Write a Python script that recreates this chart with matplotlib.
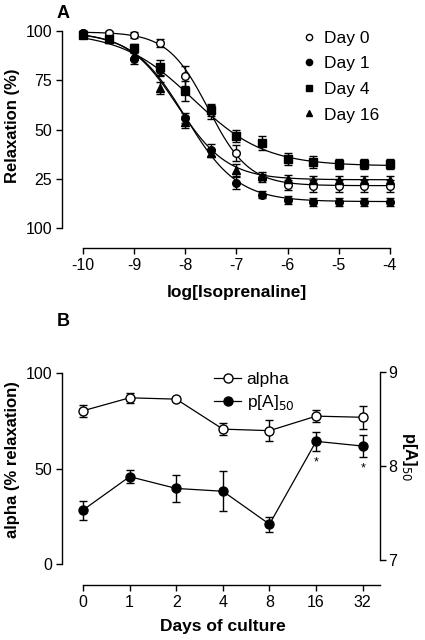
import numpy as np
import matplotlib
matplotlib.use("Agg")
import matplotlib.pyplot as plt
from matplotlib.lines import Line2D

plt.rcParams['font.family'] = ['Liberation Sans', 'DejaVu Sans']
plt.rcParams['axes.unicode_minus'] = False

# ---- panel A data ----
log_conc = [-10, -9.5, -9, -8.5, -8, -7.5, -7, -6.5, -6, -5.5, -5, -4.5, -4]
day0 = [99, 99, 98, 94, 77, 59, 38, 25.5, 22, 21.5, 21.5, 21.5, 21.5]
day0_err = [1, 1, 1.5, 2, 5, 3.5, 4, 2, 2.5, 3, 3, 3, 3]
day1 = [99, 96, 86, 80, 56, 39.5, 23, 17, 14.2, 13.4, 13.4, 13.4, 13.4]
day1_err = [1, 1, 3, 3, 2.5, 3, 3, 2, 2, 2, 2, 2, 2]
day4 = [98, 96, 91.5, 81.5, 69.5, 60, 46.5, 43.3, 35, 33.4, 32.3, 32.3, 32.3]
day4_err = [1, 1, 2, 4, 5, 3, 3, 3.5, 3, 3, 2.5, 2.5, 2.5]
day16 = [99, 96, 88, 71, 54, 38, 29.4, 26.4, 25, 24.5, 24.5, 24.5, 24.5]
day16_err = [1, 1, 2, 3, 3, 2, 3, 2, 2, 2, 2, 2, 2]

# sigmoid fit parameters
fit_top = [99.5, 99.5, 99.5, 99.5]
fit_bottom = [21.5, 13.4, 31.5, 24.5]
fit_logec50 = [-7.55, -8.0, -7.85, -8.15]
fit_hill = [1.1, 0.85, 0.62, 0.9]

# ---- panel B data ----
days = ["0", "1", "2", "4", "8", "16", "32"]
alpha = [80.4, 87.2, 86.5, 70.8, 70.0, 77.6, 77.0]
alpha_err = [3, 2.5, 1, 3, 5.5, 3, 6]
pa50 = [7.53, 7.885, 7.76, 7.73, 7.38, 8.26, 8.21]
pa50_err = [0.10, 0.07, 0.14, 0.21, 0.08, 0.10, 0.115]
signif = [False, False, False, False, False, True, True]

W, H = 425, 640
fig = plt.figure(figsize=(W / 100, H / 100), dpi=100)

def box(l, t, r, b):
    return [l / W, 1 - b / H, (r - l) / W, (b - t) / H]

def style(ax):
    ax.spines['top'].set_visible(False)
    ax.spines['right'].set_visible(False)
    ax.tick_params(direction='out', length=4, width=1, labelsize=11.5, pad=3)
    for s in ax.spines.values():
        s.set_linewidth(1)

# ---------- Panel A ----------
axA = fig.add_axes(box(62, 25, 395, 248))
style(axA)
axA.set_xlim(-10.41, -3.90)
axA.set_ylim(-10.15, 103.05)
axA.spines['left'].set_bounds(0, 100)
axA.spines['bottom'].set_bounds(-10, -4)
axA.set_yticks([0, 25, 50, 75, 100])
axA.set_yticklabels(["100", "25", "50", "75", "100"])
axA.set_xticks([-10, -9, -8, -7, -6, -5, -4])

series = [(day0, day0_err, 'o', 'white', 'Day 0'),
          (day1, day1_err, 'o', 'black', 'Day 1'),
          (day4, day4_err, 's', 'black', 'Day 4'),
          (day16, day16_err, '^', 'black', 'Day 16')]
xs = np.linspace(-10, -4, 300)
handles = []
for i, (vals, errs, mk, fc, lab) in enumerate(series):
    yfit = fit_bottom[i] + (fit_top[i] - fit_bottom[i]) / (1 + 10 ** ((xs - fit_logec50[i]) * fit_hill[i]))
    axA.plot(xs, yfit, color='black', lw=0.9, zorder=2)
    axA.errorbar(log_conc, vals, yerr=errs, fmt=mk, mfc=fc, mec='black', color='black',
                 ms=5.5, mew=1, capsize=3, elinewidth=1, capthick=1, zorder=3)
    handles.append(Line2D([], [], marker=mk, ls='none', mfc=fc, mec='black', ms=4.5, mew=1))

fig.legend(handles, [s[4] for s in series], loc='upper left',
           bbox_to_anchor=(293 / W, 1 - 22 / H), frameon=False, fontsize=12.5,
           handlelength=0.8, handletextpad=0.5, labelspacing=0.6, borderpad=0)

fig.text(63 / W, 1 - 13 / H, "A", fontsize=13, fontweight='bold', ha='center', va='center')
fig.text(13 / W, 1 - 126 / H, "Relaxation (%)", fontsize=12, fontweight='bold',
         rotation=90, ha='center', va='center')
fig.text(237 / W, 1 - 293 / H, "log[Isoprenaline]", fontsize=12.5, fontweight='bold',
         ha='center', va='center')

# ---------- Panel B ----------
axB = fig.add_axes(box(62, 368, 380, 585))
style(axB)
xpos = np.arange(len(days))
axB.set_xlim(-0.45, 6.37)
axB.set_ylim(-10.8, 102.8)
axB.spines['left'].set_bounds(0, 100)
axB.spines['bottom'].set_bounds(0, 6.37)
axB.set_yticks([0, 50, 100])
axB.set_xticks(xpos)
axB.set_xticklabels(days)

axR = axB.twinx()
axR.set_position(axB.get_position())
for k in ['top', 'left', 'bottom']:
    axR.spines[k].set_visible(False)
axR.spines['right'].set_linewidth(1)
axR.set_ylim(6.7345, 9.039)
axR.spines['right'].set_bounds(7, 9)
axR.set_yticks([7, 8, 9])
axR.tick_params(direction='out', length=4, width=1, labelsize=11.5, pad=2)

axB.errorbar(xpos, alpha, yerr=alpha_err, fmt='-o', mfc='white', mec='black', color='black',
             ms=6.5, mew=1, lw=0.9, capsize=3, elinewidth=1, capthick=1, zorder=3)
axR.errorbar(xpos, pa50, yerr=pa50_err, fmt='-o', mfc='black', mec='black', color='black',
             ms=6.5, mew=1, lw=0.9, capsize=3, elinewidth=1, capthick=1, zorder=3)
for x, v, e, s in zip(xpos, pa50, pa50_err, signif):
    if s:
        axR.annotate("*", (x, v - e), xytext=(0, -4), textcoords='offset points',
                     ha='center', va='top', fontsize=9)

hB = [Line2D([], [], marker='o', color='black', mfc='white', mec='black', ms=6.5, lw=0.9),
      Line2D([], [], marker='o', color='black', mfc='black', mec='black', ms=6.5, lw=0.9)]
fig.legend(hB, ["alpha", "p[A]$_{50}$"], loc='upper left',
           bbox_to_anchor=(205 / W, 1 - 363 / H), frameon=False, fontsize=12.5,
           handlelength=1.6, handletextpad=0.3, labelspacing=0.35, borderpad=0)

fig.text(63 / W, 1 - 322 / H, "B", fontsize=13, fontweight='bold', ha='center', va='center')
fig.text(13 / W, 1 - 460 / H, "alpha (% relaxation)", fontsize=12, fontweight='bold',
         rotation=90, ha='center', va='center')
fig.text(410 / W, 1 - 457 / H, "p[A]$_{50}$", fontsize=12, fontweight='bold',
         rotation=270, ha='center', va='center')
fig.text(223 / W, 1 - 627 / H, "Days of culture", fontsize=12.5, fontweight='bold',
         ha='center', va='center')

fig.savefig("out.png", dpi=100)
